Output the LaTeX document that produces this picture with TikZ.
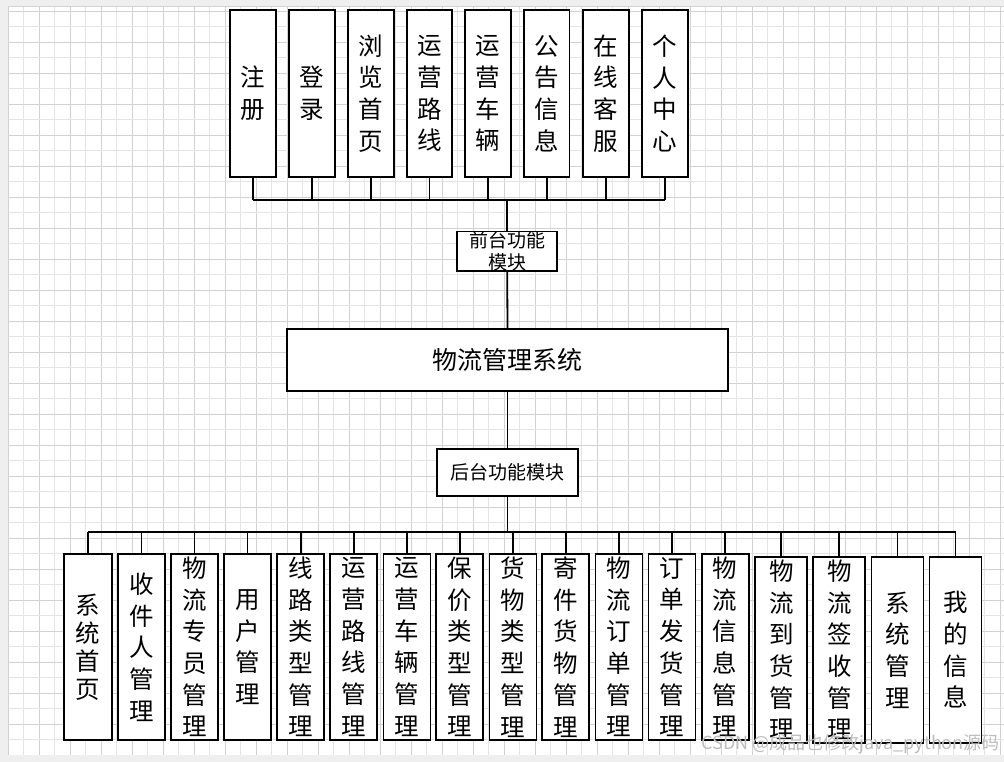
\documentclass[tikz,border=0pt]{standalone}
\usepackage{fontspec}
\newfontfamily\cjk{Noto Sans CJK SC}
\definecolor{pagegray}{HTML}{EFEFEF}
\definecolor{gridA}{HTML}{D2D2D2}
\definecolor{gridB}{HTML}{E4E4E4}
\definecolor{wmark}{HTML}{BDBDBD}
\tikzset{
  box/.style={draw=black, line width=1.8, fill=white, inner sep=0pt, align=center},
  topbox/.style={box, minimum width=45.5, minimum height=167, font={\cjk\fontsize{24.5}{31.7}\selectfont}},
  botbox/.style={box, minimum width=47, minimum height=186, font={\cjk\fontsize{24.5}{31.7}\selectfont}},
  botboxw/.style={box, minimum width=52, minimum height=185.4, font={\cjk\fontsize{24.5}{31.7}\selectfont}},
  modbox/.style={box, font={\cjk\fontsize{19}{22}\selectfont}},
  link/.style={draw=black, line width=1.8},
}
\begin{document}
\begin{tikzpicture}[x=1pt,y=-1pt]
\useasboundingbox (0,0) rectangle (1004,762);
% page background and grid
\fill[pagegray] (0,0) rectangle (1004,762);
\fill[white] (8,7) rectangle (1004,755);
\foreach \k in {0,...,64} {
  \pgfmathsetmacro{\xx}{8+15.5*\k}
  \pgfmathparse{int(mod(\k,2))}
  \ifnum\pgfmathresult=0
    \draw[gridA, line width=0.9] (\xx,7) -- (\xx,755);
  \else
    \draw[gridB, line width=0.9] (\xx,7) -- (\xx,755);
  \fi
}
\foreach \k in {0,...,47} {
  \pgfmathsetmacro{\yy}{11+15.5*\k}
  \pgfmathparse{int(mod(\k,2))}
  \ifnum\pgfmathresult=0
    \draw[gridA, line width=0.9] (8,\yy) -- (1004,\yy);
  \else
    \draw[gridB, line width=0.9] (8,\yy) -- (1004,\yy);
  \fi
}
\draw[gridA, line width=1] (8,7) -- (1004,7);
\draw[gridA, line width=1] (8,7) -- (8,755);

% top row
\node[topbox] (t1) at (252.9,93.5) {注\\册};
\node[topbox] (t2) at (311.9,93.5) {登\\录};
\node[topbox] (t3) at (371.0,93.5) {浏\\览\\首\\页};
\node[topbox] (t4) at (429.5,93.5) {运\\营\\路\\线};
\node[topbox] (t5) at (488.0,93.5) {运\\营\\车\\辆};
\node[topbox] (t6) at (546.7,93.5) {公\\告\\信\\息};
\node[topbox] (t7) at (606.0,93.5) {在\\线\\客\\服};
\node[topbox] (t8) at (665.0,93.5) {个\\人\\中\\心};

% modules
\node[modbox, minimum width=100.3, minimum height=39.3] (front) at (507.2,251.3) {前台功能\\模块};
\node[box, minimum width=440.4, minimum height=62, font={\cjk\fontsize{25}{30}\selectfont}] (sys) at (507.5,360.3) {物流管理系统};
\node[modbox, minimum width=141.6, minimum height=47] (back) at (507.5,472.5) {后台功能模块};

% bottom row
\node[botbox, minimum width=47.7, font={\cjk\fontsize{24.5}{28}\selectfont}] (b1) at (87.85,647) {系\\统\\首\\页};
\node[botbox] (b2) at (141.5,647) {收\\件\\人\\管\\理};
\node[botbox] (b3) at (194.5,647) {物\\流\\专\\员\\管\\理};
\node[botbox] (b4) at (247.5,647) {用\\户\\管\\理};
\node[botbox] (b5) at (300.8,647) {线\\路\\类\\型\\管\\理};
\node[botbox] (b6) at (353.8,647) {运\\营\\路\\线\\管\\理};
\node[botbox] (b7) at (407.0,647) {运\\营\\车\\辆\\管\\理};
\node[botbox] (b8) at (459.8,647) {保\\价\\类\\型\\管\\理};
\node[botbox] (b9) at (513.0,647) {货\\物\\类\\型\\管\\理};
\node[botbox] (b10) at (565.8,647) {寄\\件\\货\\物\\管\\理};
\node[botbox] (b11) at (619.0,647) {物\\流\\订\\单\\管\\理};
\node[botbox] (b12) at (672.0,647) {订\\单\\发\\货\\管\\理};
\node[botbox] (b13) at (725.2,647) {物\\流\\信\\息\\管\\理};
\node[botboxw] (b14) at (781.3,650) {物\\流\\到\\货\\管\\理};
\node[botboxw] (b15) at (839.3,650) {物\\流\\签\\收\\管\\理};
\node[botboxw] (b16) at (897.5,650) {系\\统\\管\\理};
\node[botboxw] (b17) at (955.5,650) {我\\的\\信\\息};

% top connectors
\coordinate (busT) at (507.2,200);
\foreach \n in {t1,t2,t3,t4,t5,t6,t7,t8} {
  \path[link] (\n.south) -- (\n.south |- busT);
}
\path[link] (t1.south |- busT) -- (t8.south |- busT);
\path[link] (busT) -- (front.north);
\path[link] (front.south) -- (sys.north);
\path[link] (sys.south) -- (back.north);

% bottom connectors
\coordinate (busB) at (507.5,531.7);
\path[link] (back.south) -- (busB);
\path[link] (b1.north |- busB) -- (b17.north |- busB);
\foreach \n in {b1,b2,b3,b4,b5,b6,b7,b8,b9,b10,b11,b12,b13,b14,b15,b16,b17} {
  \path[link] (\n.north |- busB) -- (\n.north);
}

% watermark
\node[anchor=east, inner sep=0pt, text=wmark, font={\cjk\fontsize{18}{20}\selectfont}] (wm) at (1000,744) {CSDN @成品也修改java\_python源码};
\end{tikzpicture}
\end{document}
